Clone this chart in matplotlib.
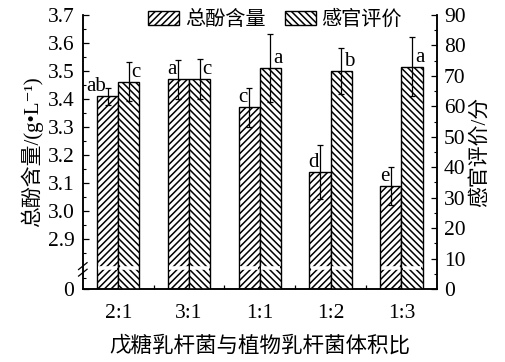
import numpy as np
import matplotlib
matplotlib.use("Agg")
import matplotlib.pyplot as plt
from matplotlib.patches import Patch

plt.rcParams['font.family'] = ['Liberation Serif', 'Noto Sans CJK SC', 'DejaVu Serif']
plt.rcParams['hatch.linewidth'] = 1.1

ratios = ["2:1", "3:1", "1:1", "1:2", "1:3"]
phenol = [3.41, 3.47, 3.37, 3.14, 3.09]
phenol_err = [0.03, 0.07, 0.07, 0.095, 0.068]
phenol_sig = ["ab", "a", "c", "d", "e"]
sensory = [68.1, 68.9, 72.7, 71.6, 73.0]
sensory_err = [6.5, 6.5, 11.2, 7.4, 9.6]
sensory_sig = ["c", "c", "a", "b", "a"]

# broken left axis: 0-2.8 squeezed into the bottom strip
brk, low_frac, k = 2.8, 0.079, 1.024

def fwd(v):
    v = np.asarray(v, dtype=float)
    return np.where(v < brk, v * low_frac / brk, low_frac + (v - brk) * k)

def inv(u):
    u = np.asarray(u, dtype=float)
    return np.where(u < low_frac, u * brk / low_frac, brk + (u - low_frac) / k)

fig = plt.figure(figsize=(5.05, 3.62), dpi=100)
ax = fig.add_axes([0.164, 0.2017, 0.701, 0.757])
ax2 = ax.twinx()

x = np.arange(len(ratios))
w = 0.3

ax.set_yscale('function', functions=(fwd, inv))
ax.set_ylim(0, 3.7)
ax2.set_ylim(0, 90)
ax.set_xlim(-0.5, 4.5)

ax.bar(x - w / 2, phenol, w, color='white', edgecolor='black', hatch='/////',
       linewidth=1.0, label='总酚含量')
ax.errorbar(x - w / 2, phenol, yerr=phenol_err, fmt='none', ecolor='black',
            elinewidth=0.9, capsize=2.5, capthick=0.9)
ax2.bar(x + w / 2, sensory, w, color='white', edgecolor='black', hatch='\\\\\\\\\\',
        linewidth=1.0, label='感官评价')
ax2.errorbar(x + w / 2, sensory, yerr=sensory_err, fmt='none', ecolor='black',
             elinewidth=0.9, capsize=2.5, capthick=0.9)

for i in range(len(ratios)):
    ax.annotate(phenol_sig[i], (x[i] - w / 2, phenol[i]), xytext=(-1, 0),
                textcoords='offset points', ha='right', va='bottom', fontsize=15)
    ax2.annotate(sensory_sig[i], (x[i] + w / 2, sensory[i]), xytext=(2, 0),
                 textcoords='offset points', ha='left', va='bottom', fontsize=15)

# white break band across the bars
tr = ax2.get_xaxis_transform()
for xi in x:
    for xb in (xi - w, xi):
        ax2.plot([xb + 0.02, xb + w - 0.02], [low_frac - 0.002] * 2, color='white',
                 lw=2.6, transform=tr, zorder=5, solid_capstyle='butt')

# break marks on left spine
for dy in (-0.012, 0.012):
    ax.plot([-0.012, 0.012], [low_frac - 0.02 + dy, low_frac + 0.005 + dy],
            color='black', lw=0.9, transform=ax.transAxes, clip_on=False)

ax.set_yticks([0, 2.9, 3.0, 3.1, 3.2, 3.3, 3.4, 3.5, 3.6, 3.7])
ax.set_yticklabels(["0", "2.9", "3.0", "3.1", "3.2", "3.3", "3.4", "3.5", "3.6", "3.7"])
ax.set_yticks([1.4] + list(np.arange(2.85, 3.7, 0.1)), minor=True)
ax2.set_yticks(np.arange(0, 91, 10))
ax2.set_yticks(np.arange(5, 90, 10), minor=True)

ax.set_xticks(x)
ax.set_xticklabels(ratios)
ax.set_xticks(x[:-1] + 0.5, minor=True)

ax.tick_params(axis='x', which='major', length=0, pad=11, labelsize=15.5)
ax.tick_params(axis='x', which='minor', direction='in', length=3, width=0.9)
ax.tick_params(axis='y', which='major', direction='in', length=4, width=0.9,
               pad=6, labelsize=15.5)
ax.tick_params(axis='y', which='minor', direction='in', length=2, width=0.8)
ax2.tick_params(axis='y', which='major', direction='in', length=4, width=0.9,
                pad=5, labelsize=15.5)
ax2.tick_params(axis='y', which='minor', direction='in', length=2, width=0.8)

for a in (ax, ax2):
    a.spines['top'].set_visible(False)
    for s in ('left', 'right', 'bottom'):
        a.spines[s].set_linewidth(1.1)

ax.set_ylabel('总酚含量/(g•L⁻¹)', fontsize=15, labelpad=3)
ax2.set_ylabel('感官评价/分', fontsize=15, labelpad=3)
ax.set_xlabel('戊糖乳杆菌与植物乳杆菌体积比', fontsize=15.5, labelpad=9)

handles = [Patch(facecolor='white', edgecolor='black', hatch='/////', label='总酚含量'),
           Patch(facecolor='white', edgecolor='black', hatch='\\\\\\\\\\', label='感官评价')]
fig.legend(handles=handles, loc='upper center', bbox_to_anchor=(0.545, 1.01), ncol=2,
           frameon=False, fontsize=14.5, handlelength=1.5, handleheight=0.7,
           columnspacing=1.0, handletextpad=0.3, borderpad=0.2)

fig.savefig('out.png', dpi=100)
